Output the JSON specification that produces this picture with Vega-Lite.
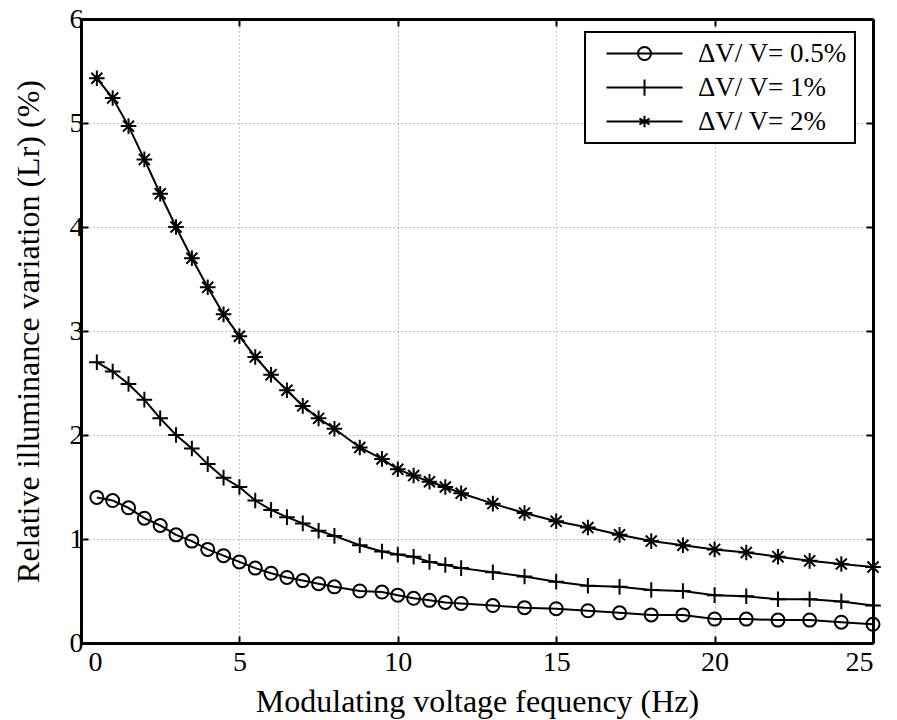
{
  "$schema": "https://vega.github.io/schema/vega-lite/v6.json",
  "autosize": {"type": "none"},
  "padding": {"left": 81, "top": 19, "right": 24, "bottom": 77},
  "width": 792,
  "height": 624,
  "background": "white",
  "config": {
    "view": {"stroke": null},
    "font": "Liberation Serif, Times New Roman, Times, DejaVu Serif, serif",
    "axis": {
      "labelFont": "Liberation Serif, Times New Roman, Times, DejaVu Serif, serif",
      "labelFontSize": 28,
      "labelColor": "black",
      "titleFont": "Liberation Serif, Times New Roman, Times, DejaVu Serif, serif",
      "titleFontSize": 32,
      "titleFontWeight": "normal",
      "titleColor": "black",
      "domainColor": "black",
      "domainWidth": 3,
      "tickColor": "black",
      "tickWidth": 2,
      "tickSize": -7,
      "gridColor": "#8a8a8a",
      "gridDash": [1, 3],
      "gridWidth": 1
    },
    "legend": {
      "labelFont": "Liberation Serif, Times New Roman, Times, DejaVu Serif, serif",
      "labelFontSize": 27,
      "labelColor": "black",
      "strokeColor": "black",
      "strokeWidth": 2,
      "fillColor": "white",
      "padding": 8,
      "rowPadding": 6
    }
  },
  "data": {
    "values": [
      {"f": 0.5, "v": 1.40, "s": "ΔV/ V= 0.5%"},
      {"f": 1, "v": 1.37, "s": "ΔV/ V= 0.5%"},
      {"f": 1.5, "v": 1.30, "s": "ΔV/ V= 0.5%"},
      {"f": 2, "v": 1.20, "s": "ΔV/ V= 0.5%"},
      {"f": 2.5, "v": 1.13, "s": "ΔV/ V= 0.5%"},
      {"f": 3, "v": 1.04, "s": "ΔV/ V= 0.5%"},
      {"f": 3.5, "v": 0.98, "s": "ΔV/ V= 0.5%"},
      {"f": 4, "v": 0.90, "s": "ΔV/ V= 0.5%"},
      {"f": 4.5, "v": 0.84, "s": "ΔV/ V= 0.5%"},
      {"f": 5, "v": 0.78, "s": "ΔV/ V= 0.5%"},
      {"f": 5.5, "v": 0.72, "s": "ΔV/ V= 0.5%"},
      {"f": 6, "v": 0.67, "s": "ΔV/ V= 0.5%"},
      {"f": 6.5, "v": 0.63, "s": "ΔV/ V= 0.5%"},
      {"f": 7, "v": 0.60, "s": "ΔV/ V= 0.5%"},
      {"f": 7.5, "v": 0.57, "s": "ΔV/ V= 0.5%"},
      {"f": 8, "v": 0.54, "s": "ΔV/ V= 0.5%"},
      {"f": 8.8, "v": 0.50, "s": "ΔV/ V= 0.5%"},
      {"f": 9.5, "v": 0.49, "s": "ΔV/ V= 0.5%"},
      {"f": 10, "v": 0.46, "s": "ΔV/ V= 0.5%"},
      {"f": 10.5, "v": 0.43, "s": "ΔV/ V= 0.5%"},
      {"f": 11, "v": 0.41, "s": "ΔV/ V= 0.5%"},
      {"f": 11.5, "v": 0.39, "s": "ΔV/ V= 0.5%"},
      {"f": 12, "v": 0.38, "s": "ΔV/ V= 0.5%"},
      {"f": 13, "v": 0.36, "s": "ΔV/ V= 0.5%"},
      {"f": 14, "v": 0.34, "s": "ΔV/ V= 0.5%"},
      {"f": 15, "v": 0.33, "s": "ΔV/ V= 0.5%"},
      {"f": 16, "v": 0.31, "s": "ΔV/ V= 0.5%"},
      {"f": 17, "v": 0.29, "s": "ΔV/ V= 0.5%"},
      {"f": 18, "v": 0.27, "s": "ΔV/ V= 0.5%"},
      {"f": 19, "v": 0.27, "s": "ΔV/ V= 0.5%"},
      {"f": 20, "v": 0.23, "s": "ΔV/ V= 0.5%"},
      {"f": 21, "v": 0.23, "s": "ΔV/ V= 0.5%"},
      {"f": 22, "v": 0.22, "s": "ΔV/ V= 0.5%"},
      {"f": 23, "v": 0.22, "s": "ΔV/ V= 0.5%"},
      {"f": 24, "v": 0.20, "s": "ΔV/ V= 0.5%"},
      {"f": 25, "v": 0.18, "s": "ΔV/ V= 0.5%"},
      {"f": 0.5, "v": 2.70, "s": "ΔV/ V= 1%"},
      {"f": 1, "v": 2.61, "s": "ΔV/ V= 1%"},
      {"f": 1.5, "v": 2.49, "s": "ΔV/ V= 1%"},
      {"f": 2, "v": 2.34, "s": "ΔV/ V= 1%"},
      {"f": 2.5, "v": 2.16, "s": "ΔV/ V= 1%"},
      {"f": 3, "v": 2.00, "s": "ΔV/ V= 1%"},
      {"f": 3.5, "v": 1.87, "s": "ΔV/ V= 1%"},
      {"f": 4, "v": 1.72, "s": "ΔV/ V= 1%"},
      {"f": 4.5, "v": 1.59, "s": "ΔV/ V= 1%"},
      {"f": 5, "v": 1.50, "s": "ΔV/ V= 1%"},
      {"f": 5.5, "v": 1.37, "s": "ΔV/ V= 1%"},
      {"f": 6, "v": 1.28, "s": "ΔV/ V= 1%"},
      {"f": 6.5, "v": 1.21, "s": "ΔV/ V= 1%"},
      {"f": 7, "v": 1.15, "s": "ΔV/ V= 1%"},
      {"f": 7.5, "v": 1.08, "s": "ΔV/ V= 1%"},
      {"f": 8, "v": 1.03, "s": "ΔV/ V= 1%"},
      {"f": 8.8, "v": 0.94, "s": "ΔV/ V= 1%"},
      {"f": 9.5, "v": 0.88, "s": "ΔV/ V= 1%"},
      {"f": 10, "v": 0.85, "s": "ΔV/ V= 1%"},
      {"f": 10.5, "v": 0.83, "s": "ΔV/ V= 1%"},
      {"f": 11, "v": 0.78, "s": "ΔV/ V= 1%"},
      {"f": 11.5, "v": 0.75, "s": "ΔV/ V= 1%"},
      {"f": 12, "v": 0.72, "s": "ΔV/ V= 1%"},
      {"f": 13, "v": 0.68, "s": "ΔV/ V= 1%"},
      {"f": 14, "v": 0.64, "s": "ΔV/ V= 1%"},
      {"f": 15, "v": 0.59, "s": "ΔV/ V= 1%"},
      {"f": 16, "v": 0.55, "s": "ΔV/ V= 1%"},
      {"f": 17, "v": 0.54, "s": "ΔV/ V= 1%"},
      {"f": 18, "v": 0.51, "s": "ΔV/ V= 1%"},
      {"f": 19, "v": 0.50, "s": "ΔV/ V= 1%"},
      {"f": 20, "v": 0.46, "s": "ΔV/ V= 1%"},
      {"f": 21, "v": 0.45, "s": "ΔV/ V= 1%"},
      {"f": 22, "v": 0.42, "s": "ΔV/ V= 1%"},
      {"f": 23, "v": 0.42, "s": "ΔV/ V= 1%"},
      {"f": 24, "v": 0.40, "s": "ΔV/ V= 1%"},
      {"f": 25, "v": 0.36, "s": "ΔV/ V= 1%"},
      {"f": 0.5, "v": 5.43, "s": "ΔV/ V= 2%"},
      {"f": 1, "v": 5.24, "s": "ΔV/ V= 2%"},
      {"f": 1.5, "v": 4.97, "s": "ΔV/ V= 2%"},
      {"f": 2, "v": 4.65, "s": "ΔV/ V= 2%"},
      {"f": 2.5, "v": 4.32, "s": "ΔV/ V= 2%"},
      {"f": 3, "v": 4.00, "s": "ΔV/ V= 2%"},
      {"f": 3.5, "v": 3.70, "s": "ΔV/ V= 2%"},
      {"f": 4, "v": 3.42, "s": "ΔV/ V= 2%"},
      {"f": 4.5, "v": 3.16, "s": "ΔV/ V= 2%"},
      {"f": 5, "v": 2.95, "s": "ΔV/ V= 2%"},
      {"f": 5.5, "v": 2.75, "s": "ΔV/ V= 2%"},
      {"f": 6, "v": 2.58, "s": "ΔV/ V= 2%"},
      {"f": 6.5, "v": 2.43, "s": "ΔV/ V= 2%"},
      {"f": 7, "v": 2.28, "s": "ΔV/ V= 2%"},
      {"f": 7.5, "v": 2.16, "s": "ΔV/ V= 2%"},
      {"f": 8, "v": 2.06, "s": "ΔV/ V= 2%"},
      {"f": 8.8, "v": 1.88, "s": "ΔV/ V= 2%"},
      {"f": 9.5, "v": 1.77, "s": "ΔV/ V= 2%"},
      {"f": 10, "v": 1.67, "s": "ΔV/ V= 2%"},
      {"f": 10.5, "v": 1.61, "s": "ΔV/ V= 2%"},
      {"f": 11, "v": 1.55, "s": "ΔV/ V= 2%"},
      {"f": 11.5, "v": 1.50, "s": "ΔV/ V= 2%"},
      {"f": 12, "v": 1.44, "s": "ΔV/ V= 2%"},
      {"f": 13, "v": 1.34, "s": "ΔV/ V= 2%"},
      {"f": 14, "v": 1.25, "s": "ΔV/ V= 2%"},
      {"f": 15, "v": 1.17, "s": "ΔV/ V= 2%"},
      {"f": 16, "v": 1.11, "s": "ΔV/ V= 2%"},
      {"f": 17, "v": 1.04, "s": "ΔV/ V= 2%"},
      {"f": 18, "v": 0.98, "s": "ΔV/ V= 2%"},
      {"f": 19, "v": 0.94, "s": "ΔV/ V= 2%"},
      {"f": 20, "v": 0.90, "s": "ΔV/ V= 2%"},
      {"f": 21, "v": 0.87, "s": "ΔV/ V= 2%"},
      {"f": 22, "v": 0.83, "s": "ΔV/ V= 2%"},
      {"f": 23, "v": 0.79, "s": "ΔV/ V= 2%"},
      {"f": 24, "v": 0.76, "s": "ΔV/ V= 2%"},
      {"f": 25, "v": 0.73, "s": "ΔV/ V= 2%"}
    ]
  },
  "layer": [
    {
      "mark": {"type": "line", "color": "black", "strokeWidth": 2},
      "encoding": {
        "x": {
          "field": "f", "type": "quantitative",
          "scale": {"domain": [0, 25], "nice": false, "zero": false},
          "axis": {
            "orient": "bottom",
            "values": [0, 5, 10, 15, 20, 25],
            "grid": true,
            "labelPadding": 12,
            "labelOffset": {"condition": {"test": "datum.value === 0", "value": 7}, "value": 0},
            "title": "Modulating voltage fequency (Hz)",
            "titlePadding": 10
          }
        },
        "y": {
          "field": "v", "type": "quantitative",
          "scale": {"domain": [0, 6], "nice": false, "zero": false},
          "axis": {
            "orient": "left",
            "values": [0, 1, 2, 3, 4, 5, 6],
            "grid": true,
            "labelPadding": 5,
            "title": "Relative illuminance variation (Lr) (%)",
            "titlePadding": 24
          }
        },
        "detail": {"field": "s"}
      }
    },
    {
      "mark": {"type": "point", "filled": false, "stroke": "black", "strokeWidth": 2, "size": 169, "opacity": 1},
      "encoding": {
        "x": {
          "field": "f", "type": "quantitative",
          "axis": {"orient": "top", "values": [0, 5, 10, 15, 20, 25], "grid": false, "labels": false, "title": null}
        },
        "y": {
          "field": "v", "type": "quantitative",
          "axis": {"orient": "right", "values": [0, 1, 2, 3, 4, 5, 6], "grid": false, "labels": false, "title": null}
        },
        "shape": {
          "field": "s", "type": "nominal",
          "scale": {
            "domain": ["ΔV/ V= 0.5%", "ΔV/ V= 1%", "ΔV/ V= 2%"],
            "range": ["circle", "M-1.2,0H1.2M0,-1.2V1.2", "M-1.2,0H1.2M0,-1.2V1.2M-0.85,-0.85L0.85,0.85M-0.85,0.85L0.85,-0.85"]
          },
          "legend": null
        }
      }
    },
    {
      "transform": [{"filter": "datum.f < 0"}],
      "mark": {"type": "point", "filled": false, "stroke": "black", "strokeWidth": 2, "size": 169, "opacity": 1},
      "encoding": {
        "x": {"field": "f", "type": "quantitative", "axis": null},
        "y": {"field": "v", "type": "quantitative", "axis": null},
        "shape": {
          "field": "s", "type": "nominal",
          "scale": {
            "domain": ["ΔV/ V= 0.5%", "ΔV/ V= 1%", "ΔV/ V= 2%"],
            "range": [
              "M-5.85,0H5.85M1,0A1,1 0 1,1 -1,0A1,1 0 1,1 1,0",
              "M-5.85,0H5.85M0,-1.25V1.25",
              "M-5.85,0H5.85M0,-0.9V0.9M-0.78,-0.45L0.78,0.45M-0.78,0.45L0.78,-0.45"
            ]
          },
          "legend": {
            "title": null,
            "orient": "none",
            "legendX": 504,
            "legendY": 13,
            "symbolSize": 169,
            "symbolStrokeColor": "black",
            "symbolStrokeWidth": 2,
            "symbolOpacity": 1,
            "symbolFillColor": "transparent",
            "symbolOffset": 38,
            "labelOffset": 40
          }
        }
      }
    }
  ],
  "resolve": {
    "axis": {"x": "independent", "y": "independent"},
    "scale": {"shape": "independent"}
  }
}
